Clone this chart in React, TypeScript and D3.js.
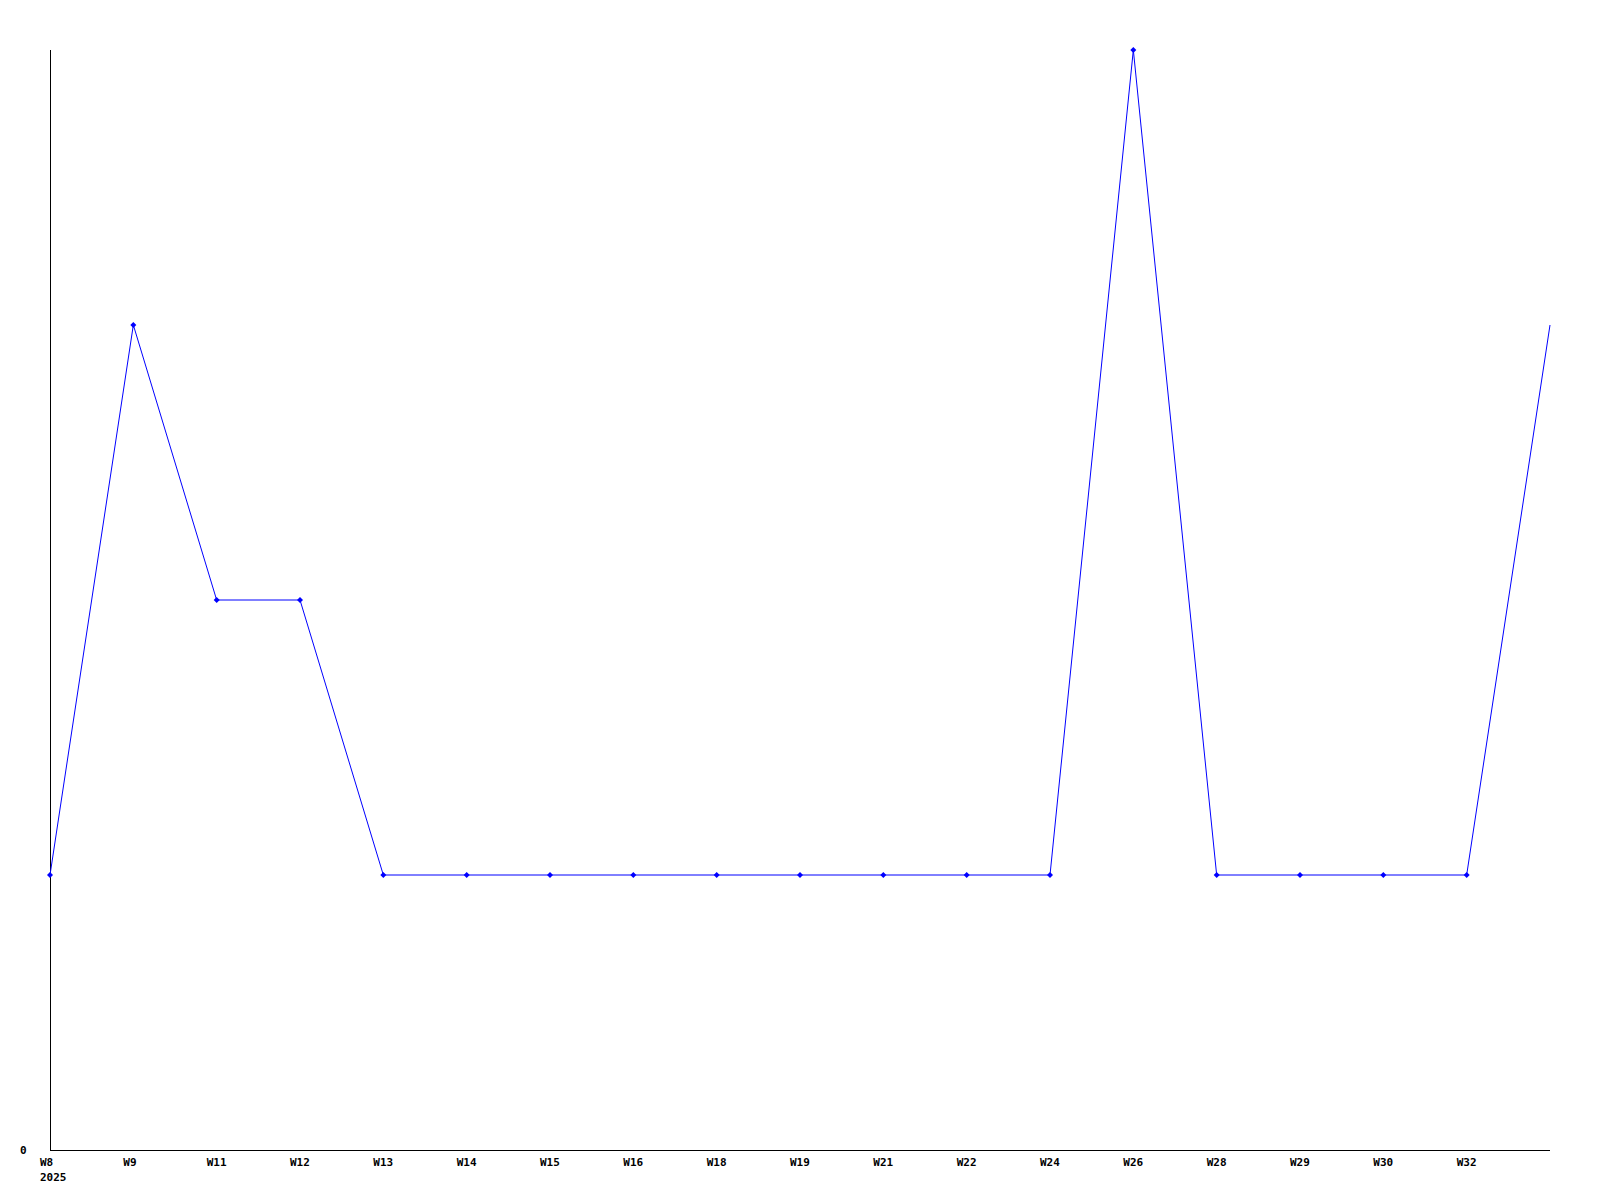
import React from "react";
import * as d3 from "d3";

const categories = ["W8", "W9", "W11", "W12", "W13", "W14", "W15", "W16", "W18", "W19", "W21", "W22", "W24", "W26", "W28", "W29", "W30", "W32", ""];
const values = [1, 3, 2, 2, 1, 1, 1, 1, 1, 1, 1, 1, 1, 4, 1, 1, 1, 1, 3];
const yTicks = [0];
const yearLabel = "2025";

export default function App() {
  const W = 1600, H = 1200;
  const left = 50, right = 1550, top = 50, bottom = 1150;
  const x = d3.scaleLinear().domain([0, categories.length - 1]).range([left, right]);
  const y = d3.scaleLinear().domain([0, 4]).range([bottom, top]);
  const line = d3.line<number>().x((_, i) => x(i)).y((d) => y(d));
  const font = "'DejaVu Sans Mono', monospace";
  return (
    <svg width={W} height={H} style={{ position: "absolute", left: 0, top: 0, background: "#fff" }}>
      <rect x={0} y={0} width={W} height={H} fill="#fff" />
      <line x1={left + 0.5} y1={top} x2={left + 0.5} y2={bottom} stroke="#000" />
      <line x1={left} y1={bottom + 0.5} x2={right} y2={bottom + 0.5} stroke="#000" />
      <path d={line(values) || ""} fill="none" stroke="#0000ff" strokeWidth={1} />
      {values.slice(0, values.length - 1).map((v, i) => (
        <path key={i} d={`M${x(i)},${y(v) - 3}L${x(i) + 3},${y(v)}L${x(i)},${y(v) + 3}L${x(i) - 3},${y(v)}Z`} fill="#0000ff" />
      ))}
      {yTicks.map((t) => (
        <text key={t} x={20} y={y(t) + 4} fontFamily={font} fontWeight="bold" fontSize={11} fill="#000">{t}</text>
      ))}
      {categories.map((c, i) => (
        <text key={i} x={x(i) - 10} y={1166} fontFamily={font} fontWeight="bold" fontSize={11} fill="#000">{c}</text>
      ))}
      <text x={40} y={1181} fontFamily={font} fontWeight="bold" fontSize={11} fill="#000">{yearLabel}</text>
    </svg>
  );
}
